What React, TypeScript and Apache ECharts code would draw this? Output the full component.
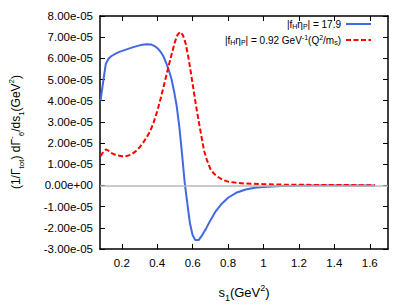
import React, { useEffect, useRef } from "react";
import * as echarts from "echarts";

// s1 values (GeV^2) and (1/Γtot) dΓ6/ds1 values (GeV^-2)
const blueX = [0.080, 0.095, 0.110, 0.125, 0.140, 0.165, 0.190, 0.215, 0.240, 0.265, 0.290, 0.315, 0.340, 0.365, 0.385, 0.405, 0.420, 0.435, 0.450, 0.465, 0.480, 0.495, 0.510, 0.525, 0.540, 0.555, 0.570, 0.585, 0.600, 0.615, 0.635, 0.655, 0.675, 0.700, 0.730, 0.760, 0.800, 0.850, 0.900, 0.950, 1.000, 1.100, 1.200, 1.300, 1.400, 1.500, 1.630];
const blueY = [4.0e-5, 4.9e-5, 5.75e-5, 5.98e-5, 6.10e-5, 6.22e-5, 6.32e-5, 6.39e-5, 6.46e-5, 6.53e-5, 6.59e-5, 6.64e-5, 6.67e-5, 6.66e-5, 6.58e-5, 6.45e-5, 6.30e-5, 6.10e-5, 5.80e-5, 5.45e-5, 5.05e-5, 4.45e-5, 3.75e-5, 2.75e-5, 1.50e-5, 0.15e-5, -0.85e-5, -1.80e-5, -2.35e-5, -2.57e-5, -2.57e-5, -2.33e-5, -2.05e-5, -1.65e-5, -1.22e-5, -0.90e-5, -0.58e-5, -0.33e-5, -0.19e-5, -0.11e-5, -0.07e-5, -0.03e-5, -0.012e-5, -0.005e-5, -0.002e-5, -0.001e-5, 0];

const redX = [0.080, 0.095, 0.110, 0.125, 0.140, 0.160, 0.180, 0.200, 0.220, 0.240, 0.260, 0.280, 0.300, 0.320, 0.340, 0.360, 0.380, 0.400, 0.420, 0.440, 0.460, 0.480, 0.500, 0.515, 0.530, 0.545, 0.560, 0.575, 0.590, 0.605, 0.620, 0.635, 0.650, 0.665, 0.680, 0.700, 0.720, 0.740, 0.770, 0.800, 0.850, 0.900, 1.000, 1.100, 1.200, 1.400, 1.630];
const redY = [1.38e-5, 1.58e-5, 1.70e-5, 1.64e-5, 1.54e-5, 1.46e-5, 1.41e-5, 1.38e-5, 1.38e-5, 1.42e-5, 1.50e-5, 1.62e-5, 1.80e-5, 2.01e-5, 2.27e-5, 2.55e-5, 2.98e-5, 3.50e-5, 4.12e-5, 4.80e-5, 5.49e-5, 6.15e-5, 6.78e-5, 7.12e-5, 7.25e-5, 7.10e-5, 6.72e-5, 6.10e-5, 5.33e-5, 4.52e-5, 3.72e-5, 3.00e-5, 2.30e-5, 1.63e-5, 1.22e-5, 0.78e-5, 0.56e-5, 0.42e-5, 0.26e-5, 0.18e-5, 0.12e-5, 0.09e-5, 0.06e-5, 0.04e-5, 0.03e-5, 0.02e-5, 0.01e-5];

const xTicks = [0.2, 0.4, 0.6, 0.8, 1.0, 1.2, 1.4, 1.6];
const xMin = 0.077;
const xMax = 1.703;
const yMin = -3e-5;
const yMax = 8e-5;
const yStep = 1e-5;

const blueName = "fixed";
const redName = "running";

const FONT = "'Liberation Sans', Arial, Helvetica, sans-serif";

function fmtY(v: number): string {
  if (Math.abs(v) < 1e-12) return "0.00e+00";
  const s = v.toExponential(2);
  const [m, e] = s.split("e");
  const sign = e[0];
  const d = e.slice(1).padStart(2, "0");
  return `${m}e${sign}${d}`;
}

const richFor = (size: number, lh: number) => {
  const small = Math.round(size * 0.7);
  return {
    m: { fontSize: size, fontFamily: FONT, color: "#000", lineHeight: lh, verticalAlign: "middle" as const },
    sub: { fontSize: small, fontFamily: FONT, color: "#000", lineHeight: small, verticalAlign: "bottom" as const },
    sup: { fontSize: small, fontFamily: FONT, color: "#000", lineHeight: small, verticalAlign: "top" as const },
  };
};

export default function App() {
  const ref = useRef<HTMLDivElement>(null);
  useEffect(() => {
    if (!ref.current) return;
    const chart = echarts.init(ref.current, null, { renderer: "svg" });
    const tickStyle = { show: true, inside: true, length: 5, lineStyle: { color: "#000", width: 1 } };
    const axisLine = { show: true, onZero: false, lineStyle: { color: "#000", width: 1.5 } };
    const legendBase = {
      right: 45,
      padding: 0,
      align: "right",
      itemWidth: 25,
      itemHeight: 12,
      selectedMode: false,
      itemStyle: { opacity: 0, borderWidth: 0 },
    };
    chart.setOption({
      animation: false,
      backgroundColor: "#fff",
      grid: { left: 100, right: 29, top: 16, bottom: 57, outerBoundsMode: "none" },
      graphic: [
        {
          type: "text",
          x: 16,
          y: 132,
          rotation: Math.PI / 2,
          style: {
            text: "{m|(1/Γ}{sub|tot}{m|) dΓ}{sup|-}{sub|6}{m|/ds}{sub|1}{m|(GeV}{sup|2}{m|)}",
            rich: richFor(12, 18),
            align: "center",
            verticalAlign: "middle",
          },
        },
      ],
      legend: [
        {
          ...legendBase,
          data: [blueName],
          top: 19,
          formatter: () => "{m||f}{sub|H}{m|η}{sub|P}{m|| = 17.9}",
          textStyle: { rich: richFor(10, 12) },
        },
        {
          ...legendBase,
          data: [redName],
          top: 34,
          formatter: () => "{m||f}{sub|H}{m|η}{sub|P}{m|| = 0.92 GeV}{sup|-1}{m|(Q}{sup|2}{m|/m}{sub|s}{m|)}",
          textStyle: { rich: richFor(10, 12) },
        },
      ],
      xAxis: [
        {
          type: "value",
          min: xMin,
          max: xMax,
          position: "bottom",
          axisLine,
          axisTick: { ...tickStyle, customValues: xTicks },
          splitLine: { show: false },
          axisLabel: {
            customValues: xTicks,
            formatter: (v: number) => String(v),
            fontSize: 11.5,
            fontFamily: FONT,
            color: "#000",
            margin: 8,
          },
          name: "{m|s}{sub|1}{m|(GeV}{sup|2}{m|)}",
          nameLocation: "middle",
          nameGap: 34,
          nameTextStyle: { rich: richFor(13, 19) },
        },
        {
          type: "value",
          min: xMin,
          max: xMax,
          position: "top",
          axisLine,
          axisTick: { ...tickStyle, customValues: xTicks },
          splitLine: { show: false },
          axisLabel: { show: false },
        },
      ],
      yAxis: [
        {
          type: "value",
          min: yMin,
          max: yMax,
          interval: yStep,
          position: "left",
          axisLine,
          axisTick: tickStyle,
          splitLine: { show: false },
          axisLabel: {
            formatter: fmtY,
            fontSize: 11.5,
            fontFamily: FONT,
            color: "#000",
            margin: 7,
          },
        },
        {
          type: "value",
          min: yMin,
          max: yMax,
          interval: yStep,
          position: "right",
          axisLine,
          axisTick: tickStyle,
          splitLine: { show: false },
          axisLabel: { show: false },
        },
      ],
      series: [
        {
          type: "line",
          name: "zero",
          data: [],
          markLine: {
            silent: true,
            symbol: "none",
            label: { show: false },
            lineStyle: { color: "#b8b8b8", width: 1.5, type: "solid" },
            data: [{ yAxis: 0 }],
          },
        },
        {
          type: "line",
          name: blueName,
          data: blueX.map((x, i) => [x, blueY[i]]),
          symbol: "none",
          lineStyle: { color: "#4169e1", width: 2 },
          itemStyle: { color: "#4169e1" },
        },
        {
          type: "line",
          name: redName,
          data: redX.map((x, i) => [x, redY[i]]),
          symbol: "none",
          lineStyle: { color: "#ff0000", width: 2, type: [5, 2.5] },
          itemStyle: { color: "#ff0000" },
        },
      ],
    });
    return () => chart.dispose();
  }, []);
  return <div ref={ref} style={{ width: 417, height: 306, position: "absolute", left: 0, top: 0 }} />;
}
